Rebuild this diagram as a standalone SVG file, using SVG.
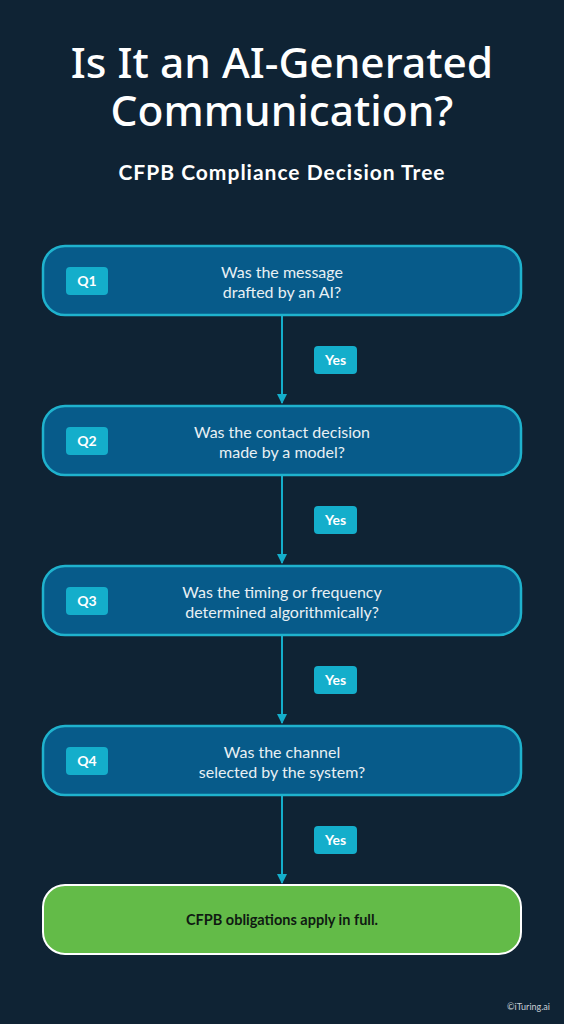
<svg xmlns="http://www.w3.org/2000/svg" width="564" height="1024" viewBox="0 0 564 1024">
<defs>
<style>
.bg{fill:#0f2334}
.q{fill:#075b8a;stroke:#1fb2cd;stroke-width:2.5}
.badge{fill:#14aecb}
.bt{font-family:Lato,"Open Sans",sans-serif;font-weight:700;font-size:14px;fill:#ffffff;text-anchor:middle}
.qt{font-family:Lato,"Open Sans",sans-serif;font-size:16px;fill:#e8f0f4;text-anchor:middle}
.conn{stroke:#14aecb;stroke-width:2;fill:none}
</style>
<marker id="ah" viewBox="0 0 10 10" refX="9" refY="5" markerWidth="5" markerHeight="5" orient="auto">
<path d="M0,0 L10,5 L0,10 z" fill="#14aecb"/>
</marker>
</defs>
<rect class="bg" x="0" y="0" width="564" height="1024"/>
<g id="title">
<text x="282" y="78" font-family="'Noto Sans','Open Sans',sans-serif" font-size="42.5" font-weight="500" fill="#ffffff" text-anchor="middle">Is It an AI-Generated</text>
<text x="282" y="126" font-family="'Noto Sans','Open Sans',sans-serif" font-size="42.5" font-weight="500" fill="#ffffff" text-anchor="middle">Communication?</text>
<text x="282" y="180" font-family="Lato,'Open Sans',sans-serif" font-size="21" font-weight="700" letter-spacing="1" fill="#ffffff" text-anchor="middle">CFPB Compliance Decision Tree</text>
</g>
<g id="connectors">
<line class="conn" x1="282" y1="316" x2="282" y2="403" marker-end="url(#ah)"/>
<line class="conn" x1="282" y1="476" x2="282" y2="563" marker-end="url(#ah)"/>
<line class="conn" x1="282" y1="636" x2="282" y2="723" marker-end="url(#ah)"/>
<line class="conn" x1="282" y1="796" x2="282" y2="883" marker-end="url(#ah)"/>
<g id="yes1"><rect class="badge" x="314" y="346" width="43" height="28" rx="4"/><text class="bt" x="335.5" y="365">Yes</text></g>
<g id="yes2"><rect class="badge" x="314" y="506" width="43" height="28" rx="4"/><text class="bt" x="335.5" y="525">Yes</text></g>
<g id="yes3"><rect class="badge" x="314" y="666" width="43" height="28" rx="4"/><text class="bt" x="335.5" y="685">Yes</text></g>
<g id="yes4"><rect class="badge" x="314" y="826" width="43" height="28" rx="4"/><text class="bt" x="335.5" y="845">Yes</text></g>
</g>
<g id="q1">
<rect class="q" x="43" y="246" width="478" height="69" rx="22"/>
<rect class="badge" x="66" y="267" width="42" height="28" rx="4"/><text class="bt" x="87" y="286">Q1</text>
<text class="qt" x="282" y="278">Was the message</text>
<text class="qt" x="282" y="298">drafted by an AI?</text>
</g>
<g id="q2">
<rect class="q" x="43" y="406" width="478" height="69" rx="22"/>
<rect class="badge" x="66" y="427" width="42" height="28" rx="4"/><text class="bt" x="87" y="446">Q2</text>
<text class="qt" x="282" y="438">Was the contact decision</text>
<text class="qt" x="282" y="458">made by a model?</text>
</g>
<g id="q3">
<rect class="q" x="43" y="566" width="478" height="69" rx="22"/>
<rect class="badge" x="66" y="587" width="42" height="28" rx="4"/><text class="bt" x="87" y="606">Q3</text>
<text class="qt" x="282" y="598">Was the timing or frequency</text>
<text class="qt" x="282" y="618">determined algorithmically?</text>
</g>
<g id="q4">
<rect class="q" x="43" y="726" width="478" height="69" rx="22"/>
<rect class="badge" x="66" y="747" width="42" height="28" rx="4"/><text class="bt" x="87" y="766">Q4</text>
<text class="qt" x="282" y="758">Was the channel</text>
<text class="qt" x="282" y="778">selected by the system?</text>
</g>
<g id="result">
<rect x="43" y="885" width="478" height="69" rx="22" fill="#63bb48" stroke="#ffffff" stroke-width="2"/>
<text x="282" y="925" font-family="Lato,'Open Sans',sans-serif" font-size="14.5" font-weight="700" fill="#0f1a12" text-anchor="middle">CFPB obligations apply in full.</text>
</g>
<text x="550" y="1010" font-family="Lato,'Open Sans',sans-serif" font-size="9" fill="#c8d0d6" text-anchor="end">©iTuring.ai</text>
</svg>
